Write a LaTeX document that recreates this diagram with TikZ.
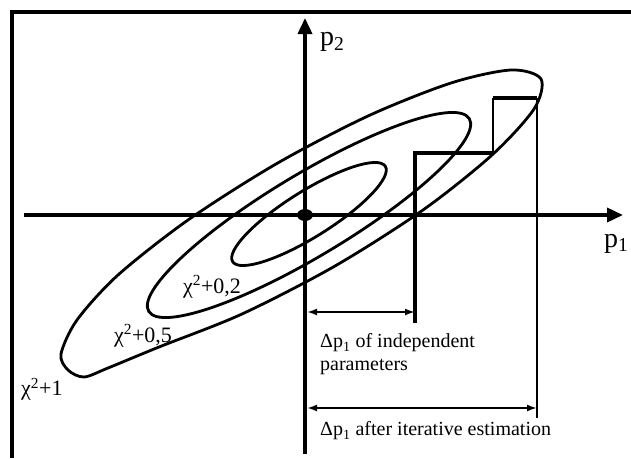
\documentclass[tikz,border=0pt]{standalone}
\usepackage{fontspec}
\setmainfont{Liberation Serif}
\usetikzlibrary{arrows.meta,shapes.geometric}

\begin{document}
\begin{tikzpicture}[x=1pt,y=-1pt,
    axis/.style={line width=3.6pt, -{Triangle[length=16pt,width=14pt]}},
    contour/.style={line width=2.8pt},
    stair/.style={line width=3.4pt},
    guide/.style={line width=2pt},
    dimarrow/.style={line width=1.8pt, {Latex[length=10pt,width=7pt]}-{Latex[length=10pt,width=7pt]}},
    lbl/.style={inner sep=0pt, font=\fontsize{20}{22}\selectfont},
    chilbl/.style={inner sep=0pt, font=\fontsize{22}{24}\selectfont},
    axlbl/.style={inner sep=0pt, font=\fontsize{28}{30}\selectfont}
]
    \useasboundingbox (0,0) rectangle (631,458);

    % frame
    \draw[line width=4pt] (12,458) -- (12,12) -- (631,12);

    % axes
    \node[ellipse, fill=black, inner sep=0pt, minimum width=16pt, minimum height=12pt, name=origin] at(305,215) {};
    \coordinate (xstart) at (24,215);
    \coordinate (xend) at (623,215);
    \coordinate (ystart) at (305,454);
    \coordinate (yend) at (305,18);
    \draw[axis] (xstart) -- (xend);
    \draw[axis] (ystart) -- (yend);
    \node[axlbl, anchor=west, name=ptwo] at(320,42) {p\textsubscript{2}};
    \node[axlbl, anchor=west, name=pone] at(604,244) {p\textsubscript{1}};

    % chi^2 contours
    \draw[contour, rotate around={32:(309,214)}] (309,214) ellipse [x radius=90pt, y radius=23pt];
    \draw[contour, rotate around={31:(309,215)}] (309,215) ellipse [x radius=187pt, y radius=41pt];
    \draw[contour] plot[smooth cycle] coordinates {
        (541,79) (511,70) (451,83) (368,116) (276,164) (188,220) (118,275) (77,320)
        (61,354) (68,370) (84,377) (108,368) (159,347) (242,314) (335,266)
        (423,210) (492,155) (534,109)};

    \node[chilbl, name=chiA] at(212,287) {χ\textsuperscript{2}+0,2};
    \node[chilbl, name=chiB] at(143,336) {χ\textsuperscript{2}+0,5};
    \node[chilbl, anchor=west, name=chiC] at(21,389) {χ\textsuperscript{2}+1};

    % iterative steps
    \coordinate (s0) at (415,323);
    \coordinate (s1) at (415,153);
    \coordinate (s2) at (493,153);
    \coordinate (s3) at (493,98);
    \coordinate (s4) at (537,98);
    \coordinate (s5) at (537,418);
    \draw[stair] (s0) -- (s1) -- (s2);
    \draw[guide] (s2) -- (s3);
    \draw[stair] (s3) -- (s4);
    \draw[guide] (s4) -- (s5);

    % dimensions
    \coordinate (d1a) at (307,312);
    \coordinate (d1b) at (415,312);
    \coordinate (d2a) at (307,408);
    \coordinate (d2b) at (537,408);
    \draw[dimarrow] (d1a) -- (d1b);
    \draw[dimarrow] (d2a) -- (d2b);

    \node[lbl, anchor=west, name=indep] at(320,343) {Δp\textsubscript{1} of independent};
    \node[lbl, anchor=west, name=param] at(320,367) {parameters};
    \node[lbl, anchor=west, name=iter] at(320,431) {Δp\textsubscript{1} after iterative estimation};

\end{tikzpicture}
\end{document}
